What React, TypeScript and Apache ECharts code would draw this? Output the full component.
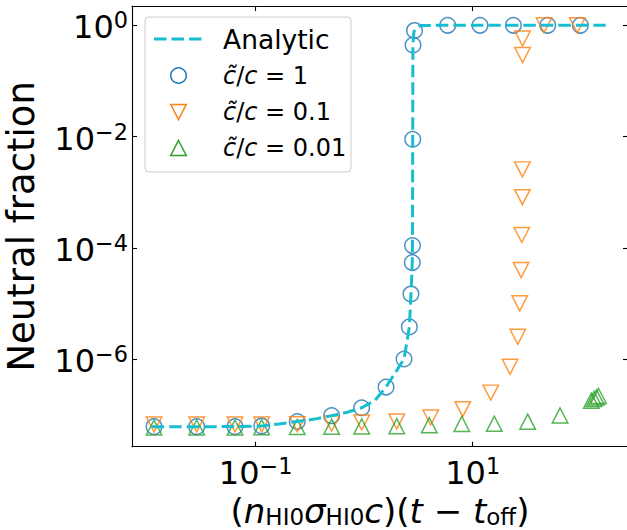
import React, { useEffect, useRef } from 'react';
import * as echarts from 'echarts';

// ---- data (x: (n σ c)(t - t_off), y: neutral fraction) ----
const analyticT = [0.011, 0.0286, 0.0644, 0.1135, 0.17, 0.2415, 0.35, 0.501, 0.7, 0.948, 1.25, 1.589, 1.923, 2.328, 2.606, 2.698, 2.773, 2.786, 2.799, 2.81, 2.87, 3.07, 3.34, 5, 10, 30, 100, 168];
const analyticY = [6.2e-8, 6.2e-8, 6.25e-8, 6.4e-8, 7.0e-8, 7.7e-8, 8.5e-8, 9.8e-8, 1.13e-7, 1.36e-7, 1.82e-7, 3.2e-7, 5.7e-7, 1.02e-6, 3.84e-6, 1.5e-5, 5.5e-5, 1.11e-4, 9.0e-3, 0.44, 0.76, 0.91, 0.99, 1, 1, 1, 1, 1];

const ratio1T = [0.01156, 0.02858, 0.0644, 0.1135, 0.2415, 0.501, 0.948, 1.589, 2.328, 2.606, 2.698, 2.773, 2.786, 2.799, 2.818, 2.909, 5.88, 11.67, 23.7, 49.1, 98.2];
const ratio1Y = [6.22e-8, 6.22e-8, 6.22e-8, 6.4e-8, 7.7e-8, 9.8e-8, 1.36e-7, 3.2e-7, 1.02e-6, 3.84e-6, 1.5e-5, 5.5e-5, 1.11e-4, 9.0e-3, 0.443, 0.807, 1, 1, 1, 1, 1];

const ratio01T = [0.01156, 0.02858, 0.0644, 0.1135, 0.2415, 0.501, 0.948, 1.995, 4.10, 8.09, 14.66, 22.07, 26.0, 27.1, 27.9, 28.3, 28.7, 28.7, 28.8, 28.8, 45.4, 92.0];
const ratio01Y = [6.8e-8, 6.8e-8, 6.8e-8, 6.8e-8, 6.9e-8, 7.1e-8, 7.4e-8, 7.7e-8, 9.1e-8, 1.28e-7, 2.54e-7, 7.4e-7, 2.56e-6, 1.02e-5, 4.04e-5, 1.72e-4, 8.2e-4, 2.59e-3, 0.293, 0.58, 1, 1];

const ratio001T = [0.01156, 0.02858, 0.0644, 0.1135, 0.2415, 0.501, 0.948, 1.995, 3.98, 7.93, 15.8, 32.1, 63.8, 123.9, 131.2, 138.4, 144.3];
const ratio001Y = [6.0e-8, 6.0e-8, 6.0e-8, 6.07e-8, 6.14e-8, 6.22e-8, 6.27e-8, 6.35e-8, 6.59e-8, 6.95e-8, 7.01e-8, 7.64e-8, 9.88e-8, 1.82e-7, 1.95e-7, 2.08e-7, 2.21e-7];

const xTickValues = [0.1, 10];
const yTickValues = [1, 1e-2, 1e-4, 1e-6];
const legendNames = ['Analytic', 'c̃/c = 1', 'c̃/c = 0.1', 'c̃/c = 0.01'];

const X_MIN_EXP = -2.14;
const X_MAX_EXP = 2.431;
const Y_MIN_EXP = -7.566;
const Y_MAX_EXP = 0.3465;

const BLUE = '#1f77b4';
const ORANGE = '#ff7f0e';
const GREEN = '#2ca02c';
const CYAN = '#17becf';
const FONT = 'DejaVu Sans';

const pairs = (t: number[], y: number[]) => t.map((v, i) => [v, y[i]]);

const tickFormatter = (value: number) => {
  const e = Math.round(Math.log10(value));
  const s = e < 0 ? '\u2212' + String(-e) : String(e);
  return '{b|10}{s|' + s + '}';
};

const tickRich = {
  b: { fontSize: 32, fontFamily: FONT, color: '#000', lineHeight: 36 },
  s: { fontSize: 22.4, fontFamily: FONT, color: '#000', lineHeight: 26.6, verticalAlign: 'top' },
};

const axisLineStyle = { color: '#000', width: 1.1 };

export default function App() {
  const ref = useRef<HTMLDivElement>(null);

  useEffect(() => {
    if (!ref.current) return;
    const chart = echarts.init(ref.current, null, { renderer: 'svg' });

    const legendRows = [39, 75.5, 112, 148];
    const mathRich = {
      i: { fontSize: 24, fontFamily: FONT, fontStyle: 'italic', fill: '#000' },
      r: { fontSize: 24, fontFamily: FONT, fill: '#000' },
    };
    const mathLabel = (label: string) => {
      const rest = label.replace('c̃/c', '');
      return '{i|c̃}{r|/}{i|c}{r|' + rest + '}';
    };

    const option: any = {
      animation: false,
      backgroundColor: '#ffffff',
      grid: { left: 132, top: 6, width: 496, height: 440.7, containLabel: false, outerBoundsMode: 'none' },
      xAxis: [
        {
          type: 'log',
          logBase: 10,
          min: Math.pow(10, X_MIN_EXP),
          max: Math.pow(10, X_MAX_EXP),
          position: 'bottom',
          axisLine: { show: true, lineStyle: axisLineStyle },
          axisTick: { show: true, inside: true, length: 5, lineStyle: axisLineStyle, customValues: xTickValues },
          minorTick: { show: false },
          splitLine: { show: false },
          axisLabel: {
            show: true,
            customValues: xTickValues,
            margin: 8,
            formatter: tickFormatter,
            rich: tickRich,
            color: '#000',
          },
          name: '{p|(}{i|n}{s|HI0}{i|σ}{s|HI0}{i|c}{p|)(}{i|t}{p| − }{i|t}{s|off}{p|)}',
          nameLocation: 'middle',
          nameGap: 42.5,
          nameTextStyle: {
            fontFamily: FONT,
            fontSize: 34,
            color: '#000',
            rich: {
              p: { fontSize: 34, fontFamily: FONT, color: '#000', lineHeight: 36 },
              i: { fontSize: 34, fontFamily: FONT, color: '#000', lineHeight: 36, fontStyle: 'italic' },
              s: { fontSize: 23, fontFamily: FONT, color: '#000', lineHeight: 17.4, verticalAlign: 'bottom' },
            },
          },
        },
        {
          type: 'log',
          logBase: 10,
          min: Math.pow(10, X_MIN_EXP),
          max: Math.pow(10, X_MAX_EXP),
          position: 'top',
          axisLine: { show: true, lineStyle: axisLineStyle },
          axisTick: { show: true, inside: true, length: 5, lineStyle: axisLineStyle, customValues: xTickValues },
          minorTick: { show: false },
          splitLine: { show: false },
          axisLabel: { show: false },
        },
      ],
      yAxis: [
        {
          type: 'log',
          logBase: 10,
          min: Math.pow(10, Y_MIN_EXP),
          max: Math.pow(10, Y_MAX_EXP),
          position: 'left',
          axisLine: { show: true, lineStyle: axisLineStyle },
          axisTick: { show: true, inside: true, length: 5, lineStyle: axisLineStyle, customValues: yTickValues },
          minorTick: { show: false },
          splitLine: { show: false },
          axisLabel: {
            show: true,
            customValues: yTickValues,
            margin: 4,
            formatter: tickFormatter,
            rich: tickRich,
            color: '#000',
            padding: [4, 0, 0, 0],
          },
          name: 'Neutral fraction',
          nameLocation: 'middle',
          nameRotate: 90,
          nameGap: 83,
          nameTextStyle: { fontFamily: FONT, fontSize: 37, color: '#000', lineHeight: 44 },
        },
        {
          type: 'log',
          logBase: 10,
          min: Math.pow(10, Y_MIN_EXP),
          max: Math.pow(10, Y_MAX_EXP),
          position: 'right',
          axisLine: { show: true, lineStyle: axisLineStyle },
          axisTick: { show: true, inside: true, length: 5, lineStyle: axisLineStyle, customValues: yTickValues },
          minorTick: { show: false },
          splitLine: { show: false },
          axisLabel: { show: false },
        },
      ],
      series: [
        {
          name: legendNames[0],
          type: 'line',
          xAxisIndex: 0,
          yAxisIndex: 0,
          data: pairs(analyticT, analyticY),
          showSymbol: false,
          symbol: 'none',
          lineStyle: { color: CYAN, width: 3, type: [12.5, 5] },
          z: 3,
        },
        {
          name: legendNames[1],
          type: 'scatter',
          data: pairs(ratio1T, ratio1Y),
          symbol: 'circle',
          symbolSize: 15.5,
          itemStyle: { color: 'rgba(0,0,0,0)', borderColor: BLUE, borderWidth: 1.5 },
          z: 2,
        },
        {
          name: legendNames[2],
          type: 'scatter',
          data: pairs(ratio01T, ratio01Y),
          symbol: 'triangle',
          symbolRotate: 180,
          symbolSize: [15.5, 15],
          itemStyle: { color: 'rgba(0,0,0,0)', borderColor: ORANGE, borderWidth: 1.5 },
          z: 2,
        },
        {
          name: legendNames[3],
          type: 'scatter',
          data: pairs(ratio001T, ratio001Y),
          symbol: 'triangle',
          symbolSize: [15.5, 15],
          itemStyle: { color: 'rgba(0,0,0,0)', borderColor: GREEN, borderWidth: 1.5 },
          z: 2,
        },
      ],
      graphic: [
        {
          type: 'group',
          z: 100,
          children: [
            {
              type: 'rect',
              shape: { x: 145, y: 17, width: 206, height: 155, r: 4 },
              style: { fill: 'rgba(255,255,255,0.8)', stroke: '#cccccc', lineWidth: 1 },
            },
            {
              type: 'line',
              shape: { x1: 154, y1: legendRows[0], x2: 204, y2: legendRows[0] },
              style: { stroke: CYAN, lineWidth: 3, lineDash: [12.5, 5] },
            },
            {
              type: 'circle',
              shape: { cx: 178.5, cy: legendRows[1], r: 7.75 },
              style: { fill: 'none', stroke: BLUE, lineWidth: 1.5 },
            },
            {
              type: 'polygon',
              shape: { points: [[170.75, legendRows[2] - 7.5], [186.25, legendRows[2] - 7.5], [178.5, legendRows[2] + 7.5]] },
              style: { fill: 'none', stroke: ORANGE, lineWidth: 1.5 },
            },
            {
              type: 'polygon',
              shape: { points: [[178.5, legendRows[3] - 7.5], [186.25, legendRows[3] + 7.5], [170.75, legendRows[3] + 7.5]] },
              style: { fill: 'none', stroke: GREEN, lineWidth: 1.5 },
            },
            {
              type: 'text',
              x: 223,
              y: legendRows[0],
              style: {
                text: legendNames[0],
                fontSize: 26.5,
                fontFamily: FONT,
                fill: '#000',
                align: 'left',
                verticalAlign: 'middle',
                textAlign: 'left',
                textVerticalAlign: 'middle',
              },
            },
            ...[1, 2, 3].map((k) => ({
              type: 'text',
              x: 223,
              y: legendRows[k],
              style: {
                text: mathLabel(legendNames[k]),
                fontSize: 24,
                fontFamily: FONT,
                fill: '#000',
                align: 'left',
                verticalAlign: 'middle',
                textAlign: 'left',
                textVerticalAlign: 'middle',
                rich: mathRich,
              },
            })),
          ],
        },
      ],
    };

    chart.setOption(option);
    return () => chart.dispose();
  }, []);

  return (
    <div
      ref={ref}
      style={{ position: 'fixed', left: 0, top: 0, width: 627, height: 530, background: '#fff' }}
    />
  );
}
